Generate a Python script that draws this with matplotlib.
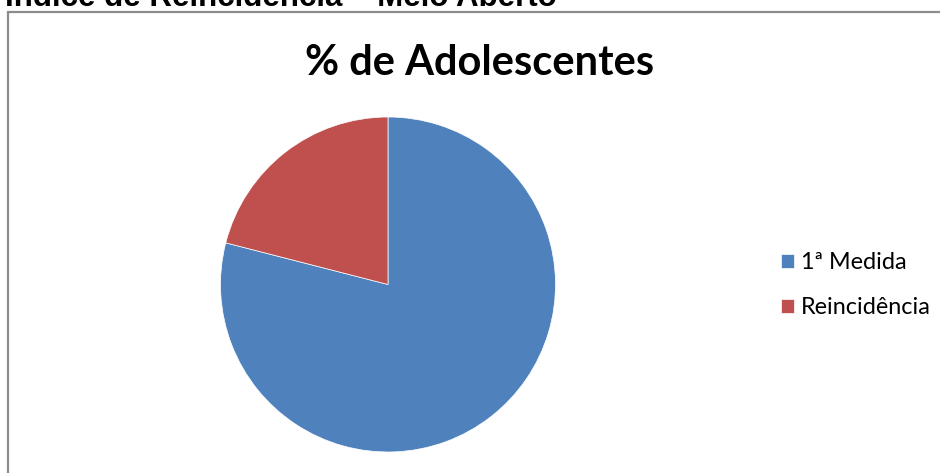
"""Pie chart: share of adolescents, first measure vs. reoffending."""

import matplotlib
matplotlib.use("Agg")
from matplotlib import pyplot as plt
from matplotlib.patches import Rectangle

# data
categories = ["1ª Medida", "Reincidência"]
shares = [79, 21]
colours = ["#4F81BD", "#C0504D"]

page_title = "Índice de Reincidência – Meio Aberto"
chart_title = "% de Adolescentes"

W, H = 940, 473
fig = plt.figure(figsize=(W / 100, H / 100), dpi=100)
fig.patch.set_facecolor("white")

# chart frame (runs off the right and bottom edges)
frame = Rectangle(
    (8 / W, -0.02), 1.05, 1 - 12 / H + 0.02,
    transform=fig.transFigure, fill=False,
    edgecolor="#8c8c8c", linewidth=1.6, clip_on=False,
)
fig.patches.append(frame)

# page heading, cut off at the top as in the source
fig.text(5 / W, 1 - 6.5 / H, page_title, ha="left", va="baseline",
         fontsize=22.5, fontweight="bold", family="Liberation Sans")

fig.text(480 / W, 1 - 75 / H, chart_title, ha="center", va="baseline",
         fontsize=30, fontweight="bold", family="Lato")

# pie axes sized so centre/radius land where the reference has them
cx, cy, r = 388, 284.5, 167.5
ax = fig.add_axes([(cx - r) / W, (H - cy - r) / H, 2 * r / W, 2 * r / H])
wedges, _ = ax.pie(
    shares, colors=colours, startangle=90, counterclock=False,
    radius=1, wedgeprops={"edgecolor": "white", "linewidth": 0.5},
)
ax.set_xlim(-1, 1)
ax.set_ylim(-1, 1)
ax.axis("off")

fig.legend(
    wedges, categories, loc="center left",
    bbox_to_anchor=(772 / W, 1 - 285 / H),
    frameon=False, prop={"family": "Lato", "size": 16.8},
    handlelength=0.55, handleheight=0.55, handletextpad=0.3,
    labelspacing=1.02, borderaxespad=0,
)

fig.savefig("out.png", dpi=100)
plt.close(fig)
